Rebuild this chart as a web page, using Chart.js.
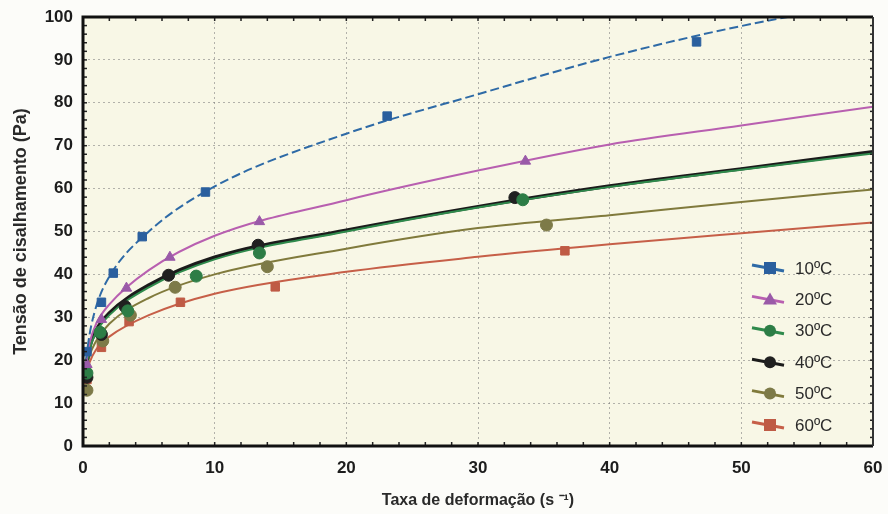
<!DOCTYPE html>
<html lang="pt">
<head>
    <meta charset="UTF-8">
    <title>Tensão de cisalhamento x taxa de deformação</title>
    <script src="https://cdn.jsdelivr.net/npm/chart.js"></script>
    <style>
        html, body { margin: 0; padding: 0; background: #fcfcf9; }
        #wrap { width: 888px; height: 514px; }
    </style>
</head>
<body>
    <div id="wrap"><canvas id="rheoChart" width="888" height="514"></canvas></div>

    <script>
        // temperaturas
        const temps = ['10ºC', '20ºC', '30ºC', '40ºC', '50ºC', '60ºC'];

        // pontos experimentais (taxa de deformação, tensão)
        const rate10 = [0.3, 1.4, 2.3, 4.5, 9.3, 23.1, 46.6];
        const tau10  = [22, 33.5, 40.3, 48.8, 59.2, 76.9, 94.2];
        const rate20 = [0.3, 1.4, 3.3, 6.6, 13.4, 33.6];
        const tau20  = [19, 29.5, 36.8, 44.0, 52.3, 66.4];
        const rate30 = [0.3, 1.3, 3.4, 8.6, 13.4, 33.4];
        const tau30  = [17, 26.5, 31.5, 39.6, 45.0, 57.4];
        const rate40 = [0.3, 1.4, 3.2, 6.5, 13.3, 32.8];
        const tau40  = [16, 26, 32.5, 39.8, 46.8, 57.9];
        const rate50 = [0.3, 1.5, 3.6, 7.0, 14.0, 35.2];
        const tau50  = [13, 24.5, 30.5, 37.0, 41.8, 51.5];
        const rate60 = [0.3, 1.4, 3.5, 7.4, 14.6, 36.6];
        const tau60  = [15.5, 23, 29, 33.5, 37.1, 45.5];

        // curvas ajustadas
        const fitRate = [0.1, 0.5, 1, 2, 5, 10, 20, 30, 40, 50, 60];
        const fit10 = [17, 26, 32.5, 39.5, 50, 60.5, 72.8, 82, 90.7, 97.9, 103.5];
        const fit20 = [17, 24, 28.5, 33, 41, 49, 57.3, 64.2, 70.3, 74.7, 79.1];
        const fit30 = [16, 22.5, 26.5, 30.5, 37, 43.5, 50, 55.6, 60.4, 64.4, 68.2];
        const fit40 = [16, 23, 27, 31, 37.5, 44, 50.3, 55.8, 60.6, 64.6, 68.6];
        const fit50 = [15, 21, 24.5, 28.5, 34.5, 40, 46, 50.8, 53.8, 56.9, 59.8];
        const fit60 = [15, 19.5, 22.5, 25.5, 30.5, 35.5, 40.6, 44.1, 47.0, 49.6, 52.1];

        const xTicks = [0, 10, 20, 30, 40, 50, 60];
        const yTicks = [0, 10, 20, 30, 40, 50, 60, 70, 80, 90, 100];

        const colors = ['#2e6aa6', '#b85fb0', '#2f8a4c', '#1b1b1b', '#807a3c', '#c65f48'];
        const markerColors = ['#2a5f9e', '#9a5aa8', '#2d7d46', '#202020', '#7d7a48', '#bf5b45'];
        const markers = ['rect', 'triangle', 'circle', 'circle', 'circle', 'rect'];
        const rates = [rate10, rate20, rate30, rate40, rate50, rate60];
        const taus = [tau10, tau20, tau30, tau40, tau50, tau60];
        const fits = [fit10, fit20, fit30, fit40, fit50, fit60];

        const datasets = [];
        temps.forEach((t, i) => {
            datasets.push({
                label: t + ' ajuste',
                data: fitRate.map((x, k) => ({ x: x, y: fits[i][k] })),
                showLine: true,
                borderColor: colors[i],
                borderWidth: i === 3 ? 3.5 : 2,
                borderDash: i === 0 ? [9, 4] : [],
                pointRadius: 0,
                cubicInterpolationMode: 'monotone',
                order: 2
            });
            datasets.push({
                label: t,
                data: rates[i].map((x, k) => ({ x: x, y: taus[i][k] })),
                showLine: false,
                pointStyle: markers[i],
                pointRadius: 6,
                backgroundColor: markerColors[i],
                borderColor: markerColors[i],
                order: 1
            });
        });

        const framePlugin = {
            id: 'frame',
            beforeDraw(chart) {
                const { ctx, chartArea: a } = chart;
                ctx.save();
                ctx.fillStyle = '#f8f7e6';
                ctx.fillRect(a.left, a.top, a.right - a.left, a.bottom - a.top);
                ctx.restore();
            },
            afterDatasetsDraw(chart) {
                const { ctx, chartArea: a } = chart;
                const ys = chart.scales.y;
                const xs = chart.scales.x;
                ctx.save();
                // pequenas marcas nos eixos
                ctx.strokeStyle = '#222';
                ctx.lineWidth = 1.5;
                for (let v = 0; v <= 100; v += 2) {
                    const p = ys.getPixelForValue(v);
                    ctx.beginPath();
                    ctx.moveTo(a.left, p);
                    ctx.lineTo(a.left + 4, p);
                    ctx.stroke();
                    ctx.beginPath();
                    ctx.moveTo(a.right, p);
                    ctx.lineTo(a.right - 3, p);
                    ctx.stroke();
                }
                for (let v = 0; v <= 60; v += 2) {
                    const p = xs.getPixelForValue(v);
                    ctx.beginPath();
                    ctx.moveTo(p, a.top);
                    ctx.lineTo(p, a.top + 4);
                    ctx.stroke();
                    ctx.beginPath();
                    ctx.moveTo(p, a.bottom);
                    ctx.lineTo(p, a.bottom - 4);
                    ctx.stroke();
                }
                ctx.strokeStyle = '#111';
                ctx.lineWidth = 3;
                ctx.beginPath();
                ctx.moveTo(a.right, a.top);
                ctx.lineTo(a.left, a.top);
                ctx.lineTo(a.left, a.bottom);
                ctx.lineTo(a.right, a.bottom);
                ctx.stroke();
                ctx.strokeStyle = '#333';
                ctx.lineWidth = 2;
                ctx.beginPath();
                ctx.moveTo(a.right, a.top);
                ctx.lineTo(a.right, a.bottom);
                ctx.stroke();

                // legenda
                const lx = 752, ly = 268, step = 31.4;
                temps.forEach((t, i) => {
                    const y = ly + i * step;
                    ctx.strokeStyle = colors[i];
                    ctx.lineWidth = 3;
                    ctx.beginPath();
                    ctx.moveTo(lx, y - 3);
                    ctx.lineTo(lx + 32, y + 3);
                    ctx.stroke();
                    ctx.fillStyle = markerColors[i];
                    const cx = lx + 18;
                    ctx.beginPath();
                    if (markers[i] === 'rect') {
                        ctx.rect(cx - 6, y - 6, 12, 12);
                    } else if (markers[i] === 'triangle') {
                        ctx.moveTo(cx, y - 7);
                        ctx.lineTo(cx + 7, y + 5);
                        ctx.lineTo(cx - 7, y + 5);
                        ctx.closePath();
                    } else {
                        ctx.arc(cx, y, 6, 0, Math.PI * 2);
                    }
                    ctx.fill();
                    ctx.fillStyle = '#2a2a2a';
                    ctx.font = '17px "Liberation Sans", Arial, sans-serif';
                    ctx.textBaseline = 'middle';
                    ctx.fillText(t, lx + 43, y + 1);
                });
                ctx.restore();
            }
        };

        const tickFont = { family: '"Liberation Sans", Arial', size: 17, weight: 'bold' };

        const ctx = document.getElementById('rheoChart').getContext('2d');
        new Chart(ctx, {
            type: 'scatter',
            data: { datasets: datasets },
            options: {
                responsive: false,
                animation: false,
                layout: { padding: { left: 0, right: 15, top: 17, bottom: 0 } },
                plugins: {
                    legend: { display: false },
                    tooltip: { enabled: false }
                },
                scales: {
                    x: {
                        type: 'linear',
                        min: 0,
                        max: 60,
                        afterBuildTicks: s => { s.ticks = xTicks.map(v => ({ value: v })); },
                        afterFit: s => { s.height = 68; s.paddingLeft = 0; s.paddingRight = 0; },
                        grid: {
                            color: 'rgba(120,120,120,0.55)',
                            drawTicks: false
                        },
                        border: { display: false, dash: [2, 3] },
                        ticks: {
                            color: '#1c1c1c',
                            padding: 12,
                            font: tickFont
                        },
                        title: {
                            display: true,
                            text: 'Taxa de deformação (s ⁻¹)',
                            color: '#2a2a2a',
                            padding: { top: 14 },
                            font: { family: '"Liberation Sans", Arial', size: 16, weight: 'bold' }
                        }
                    },
                    y: {
                        min: 0,
                        max: 100,
                        afterBuildTicks: s => { s.ticks = yTicks.map(v => ({ value: v })); },
                        afterFit: s => { s.width = 83; s.paddingTop = 0; s.paddingBottom = 0; },
                        grid: {
                            color: 'rgba(120,120,120,0.55)',
                            drawTicks: false
                        },
                        border: { display: false, dash: [2, 3] },
                        ticks: {
                            color: '#1c1c1c',
                            padding: 10,
                            font: tickFont
                        },
                        title: {
                            display: true,
                            text: 'Tensão de cisalhamento (Pa)',
                            color: '#2a2a2a',
                            padding: { top: 10, bottom: 4 },
                            font: { family: '"Liberation Sans", Arial', size: 18, weight: 'bold' }
                        }
                    }
                }
            },
            plugins: [framePlugin]
        });
    </script>
</body>
</html>
